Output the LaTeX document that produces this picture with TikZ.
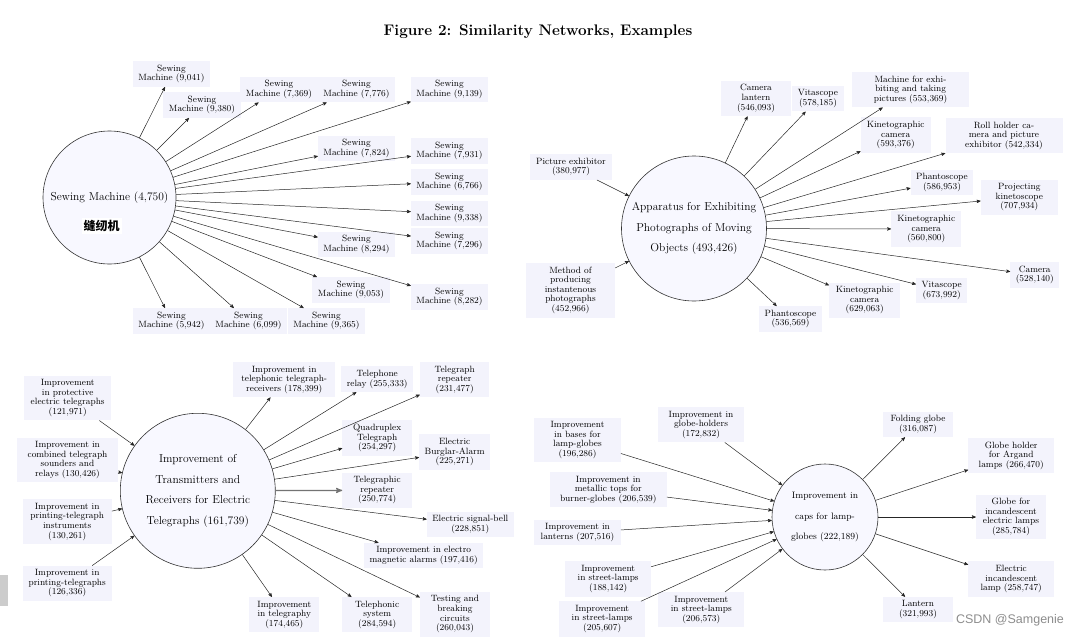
\documentclass[tikz,border=0pt]{standalone}
\usepackage{fontspec}
\newfontfamily\cjk{Noto Sans CJK SC}
\newfontfamily\wmfont{Liberation Sans}
\usetikzlibrary{arrows}
\definecolor{boxfill}{RGB}{243,243,252}
\definecolor{hubfill}{RGB}{248,248,255}
\tikzset{
  leaf/.style={fill=boxfill, align=center, inner xsep=5.5, inner ysep=3.7, minimum width=69.5, font=\fontsize{9.1}{9.6}\selectfont},
  hub/.style={circle, draw=black!80, line width=.6pt, fill=hubfill, align=center, inner sep=0, font=\fontsize{11.5}{20.7}\selectfont},
  link/.style={->, >=stealth', line width=.5pt, black!85},
}
\begin{document}
\begin{tikzpicture}[x=1pt, y=-1pt]
\useasboundingbox (0,0) rectangle (1080,637);
\node (title) at (538,32) {\fontsize{15.3}{18}\selectfont\bfseries Figure 2: Similarity Networks, Examples};

% sewing machine
\node[hub, minimum size=133] (sm) at (109.5,197.5) {Sewing Machine (4,750)};
\node[fill=white, inner sep=2, font=\cjk\bfseries\fontsize{12}{14}\selectfont] (smzh) at (101.5,226) {缝纫机};
\node[leaf, minimum width=75] (s1) at (171.5,74) {Sewing\\Machine (9,041)};
\node[leaf, minimum width=75] (s2) at (202,105) {Sewing\\Machine (9,380)};
\node[leaf, minimum width=75] (s3) at (279,89.5) {Sewing\\Machine (7,369)};
\node[leaf, minimum width=75] (s4) at (356.5,89.5) {Sewing\\Machine (7,776)};
\node[leaf, minimum width=75] (s5) at (449.5,89.5) {Sewing\\Machine (9,139)};
\node[leaf, minimum width=75] (s6) at (356.5,148.5) {Sewing\\Machine (7,824)};
\node[leaf, minimum width=75] (s7) at (449.5,151) {Sewing\\Machine (7,931)};
\node[leaf, minimum width=75] (s8) at (449.5,182) {Sewing\\Machine (6,766)};
\node[leaf, minimum width=75] (s9) at (449.5,213.5) {Sewing\\Machine (9,338)};
\node[leaf, minimum width=75] (s10) at (356.5,244.5) {Sewing\\Machine (8,294)};
\node[leaf, minimum width=75] (s11) at (449.5,241) {Sewing\\Machine (7,296)};
\node[leaf, minimum width=75] (s12) at (351,290) {Sewing\\Machine (9,053)};
\node[leaf, minimum width=75] (s13) at (449.5,297) {Sewing\\Machine (8,282)};
\node[leaf, minimum width=75] (s14) at (326.5,321) {Sewing\\Machine (9,365)};
\node[leaf, minimum width=75] (s15) at (248.5,321) {Sewing\\Machine (6,099)};
\node[leaf, minimum width=75] (s16) at (171.5,321) {Sewing\\Machine (5,942)};
\draw[link] (sm) -- (s1); \draw[link] (sm) -- (s2); \draw[link] (sm) -- (s3); \draw[link] (sm) -- (s4);
\draw[link] (sm) -- (s5); \draw[link] (sm) -- (s6); \draw[link] (sm) -- (s7); \draw[link] (sm) -- (s8);
\draw[link] (sm) -- (s9); \draw[link] (sm) -- (s10); \draw[link] (sm) -- (s11); \draw[link] (sm) -- (s12);
\draw[link] (sm) -- (s13); \draw[link] (sm) -- (s14); \draw[link] (sm) -- (s15); \draw[link] (sm) -- (s16);

% moving pictures
\node[hub, minimum size=145] (ap) at (694,228.5) {Apparatus for Exhibiting\\Photographs of Moving\\Objects (493,426)};
\node[leaf] (a1) at (756,98.5) {Camera\\lantern\\(546,093)};
\node[leaf, minimum width=50] (a2) at (818,98.7) {Vitascope\\(578,185)};
\node[leaf, minimum width=117] (a3) at (910.5,89.7) {Machine for exhi-\\biting and taking\\pictures (553,369)};
\node[leaf, minimum width=70] (a4) at (895.7,135) {Kinetographic\\camera\\(593,376)};
\node[leaf, minimum width=117] (a5) at (1004,135.7) {Roll holder ca-\\mera and picture\\exhibitor (542,334)};
\node[leaf, minimum width=54] (a6) at (942,182.3) {Phantoscope\\(586,953)};
\node[leaf, minimum width=77] (a7) at (1019.3,197.3) {Projecting\\kinetoscope\\(707,934)};
\node[leaf, minimum width=70] (a8) at (926.3,229) {Kinetographic\\camera\\(560,800)};
\node[leaf, minimum width=46] (a9) at (1034.8,275) {Camera\\(528,140)};
\node[leaf, minimum width=51] (a10) at (941.7,290.7) {Vitascope\\(673,992)};
\node[leaf, minimum width=71] (a11) at (864.7,300.3) {Kinetographic\\camera\\(629,063)};
\node[leaf, minimum width=55] (a12) at (790.5,319) {Phantoscope\\(536,569)};
\node[leaf, minimum width=82] (a13) at (571,167) {Picture exhibitor\\(380,977)};
\node[leaf, minimum width=89] (a14) at (570.5,290.3) {Method of\\producing\\instantenous\\photographs\\(452,966)};
\draw[link] (ap) -- (a1); \draw[link] (ap) -- (a2); \draw[link] (ap) -- (a3); \draw[link] (ap) -- (a4);
\draw[link] (ap) -- (a5); \draw[link] (ap) -- (a6); \draw[link] (ap) -- (a7); \draw[link] (ap) -- (a8);
\draw[link] (ap) -- (a9); \draw[link] (ap) -- (a10); \draw[link] (ap) -- (a11); \draw[link] (ap) -- (a12);
\draw[link] (a13) -- (ap); \draw[link] (a14) -- (ap);

% telegraphs
\node[hub, minimum size=155] (tg) at (197.8,490.8) {Improvement of\\Transmitters and\\Receivers for Electric\\Telegraphs (161,739)};
\node[leaf, minimum width=87] (t1) at (67.7,398) {Improvement\\in protective\\electric telegraphs\\(121,971)};
\node[leaf, minimum width=101.6] (t2) at (67.5,460) {Improvement in\\combined telegraph\\sounders and\\relays (130,426)};
\node[leaf, minimum width=89] (t3) at (67.2,521.7) {Improvement in\\printing-telegraph\\instruments\\(130,261)};
\node[leaf, minimum width=89] (t4) at (67.2,583.3) {Improvement in\\printing-telegraphs\\(126,336)};
\node[leaf, minimum width=101.7] (t5) at (284.2,379.7) {Improvement in\\telephonic telegraph-\\receivers (178,399)};
\node[leaf] (t6) at (377.2,379.2) {Telephone\\relay (255,333)};
\node[leaf] (t7) at (454.7,379.7) {Telegraph\\repeater\\(231,477)};
\node[leaf] (t8) at (377.2,438) {Quadruplex\\Telegraph\\(254,297)};
\node[leaf] (t9) at (454.7,452) {Electric\\Burglar-Alarm\\(225,271)};
\node[leaf] (t10) at (377.2,490.3) {Telegraphic\\repeater\\(250,774)};
\node[leaf, minimum width=86] (t11) at (470.3,524.7) {Electric signal-bell\\(228,851)};
\node[leaf, minimum width=119] (t12) at (423.7,555.7) {Improvement in electro\\magnetic alarms (197,416)};
\node[leaf, minimum width=70] (t13) at (284.3,614.7) {Improvement\\in telegraphy\\(174,465)};
\node[leaf] (t14) at (377.2,614.7) {Telephonic\\system\\(284,594)};
\node[leaf, minimum width=70] (t15) at (455,614.2) {Testing and\\breaking\\circuits\\(260,043)};
\draw[link] (t1) -- (tg); \draw[link] (t2) -- (tg); \draw[link] (t3) -- (tg); \draw[link] (t4) -- (tg);
\draw[link] (tg) -- (t5); \draw[link] (tg) -- (t6); \draw[link] (tg) -- (t7); \draw[link] (tg) -- (t8);
\draw[link] (tg) -- (t9); \draw[link, line width=1.2pt, black!55] (tg) -- (t10); \draw[link] (tg) -- (t11);
\draw[link] (tg) -- (t12); \draw[link] (tg) -- (t13); \draw[link] (tg) -- (t14); \draw[link] (tg) -- (t15);

% lamp globes
\node[hub, minimum size=106, font=\fontsize{9.3}{20.3}\selectfont] (lg) at (825,517) {Improvement in\\caps for lamp-\\globes (222,189)};
\node[leaf, minimum width=86.4] (g1) at (577.5,440) {Improvement\\in bases for\\lamp-globes\\(196,286)};
\node[leaf, minimum width=86.6] (g2) at (701,424.7) {Improvement in\\globe-holders\\(172,832)};
\node[leaf, minimum width=116.7] (g3) at (608.3,489.7) {Improvement in\\metallic tops for\\burner-globes (206,539)};
\node[leaf, minimum width=86.4] (g4) at (577.5,532.7) {Improvement in\\lanterns (207,516)};
\node[leaf, minimum width=85.7] (g5) at (608.2,579) {Improvement\\in street-lamps\\(188,142)};
\node[leaf, minimum width=85.7] (g6) at (602.2,619) {Improvement\\in street-lamps\\(205,607)};
\node[leaf, minimum width=86] (g7) at (701.3,609.7) {Improvement\\in street-lamps\\(206,573)};
\node[leaf] (g8) at (918,424.3) {Folding globe\\(316,087)};
\node[leaf, minimum width=85.7] (g9) at (1011.2,455.7) {Globe holder\\for Argand\\lamps (266,470)};
\node[leaf, minimum width=70] (g10) at (1011,517) {Globe for\\incandescent\\electric lamps\\(285,784)};
\node[leaf, minimum width=85.7] (g11) at (1011.2,579) {Electric\\incandescent\\lamp (258,747)};
\node[leaf] (g12) at (918,609.7) {Lantern\\(321,993)};
\draw[link] (g1) -- (lg); \draw[link] (g2) -- (lg); \draw[link] (g3) -- (lg); \draw[link] (g4) -- (lg);
\draw[link] (g5) -- (lg); \draw[link] (g6) -- (lg); \draw[link] (g7) -- (lg);
\draw[link] (lg) -- (g8); \draw[link] (lg) -- (g9); \draw[link] (lg) -- (g10); \draw[link] (lg) -- (g11);
\draw[link] (lg) -- (g12);

\fill[black!20] (0,575) rectangle (8,606);
\node[text=black!45, font=\wmfont\fontsize{12.5}{14}\selectfont] (mark) at (1010,620) {CSDN @Samgenie};
\end{tikzpicture}
\end{document}
